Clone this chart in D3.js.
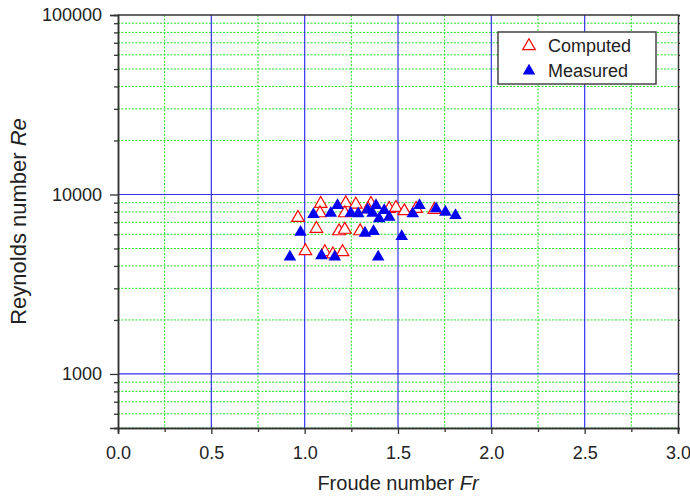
<!DOCTYPE html>
<html>
<head>
<meta charset="utf-8">
<script src="https://cdn.jsdelivr.net/npm/d3@7"></script>
<style>
  body { margin: 0; background: #fff; }
  text { font-family: "Liberation Sans", Arial, sans-serif; fill: #222; }
</style>
</head>
<body>
<div id="chart"></div>
<script>
// Froude number (x) and Reynolds number (y)
const computedFr = [1.086, 1.082, 0.964, 1.063, 1.220, 1.215, 1.274, 1.184, 1.215, 1.297,
                    1.355, 1.004, 1.108, 1.151, 1.203, 1.453, 1.489, 1.534, 1.597, 1.695, 1.340];
const computedRe = [8880, 7870, 7420, 6450, 8950, 7870, 8800, 6250, 6370, 6250,
                    8880, 4840, 4780, 4650, 4780, 8330, 8440, 8080, 8330, 8220, 8300];

const measuredFr = [0.978, 0.921, 1.047, 1.176, 1.140, 1.090, 1.161, 1.247, 1.287, 1.323,
                    1.369, 1.382, 1.337, 1.364, 1.399, 1.426, 1.453, 1.394, 1.520, 1.579,
                    1.615, 1.704, 1.754, 1.808];
const measuredRe = [6170, 4490, 7740, 8690, 7870, 4570, 4490, 7870, 7810, 6100,
                    6230, 8690, 8220, 7870, 7330, 8150, 7480, 4490, 5840, 7810,
                    8690, 8330, 7980, 7640];

const xMajor = [0, 0.5, 1.0, 1.5, 2.0, 2.5, 3.0];
const xMinor = [0.25, 0.75, 1.25, 1.75, 2.25, 2.75];
const yMajor = [1000, 10000, 100000];
const yMinor = [500, 600, 700, 800, 900, 2000, 3000, 4000, 5000, 6000, 7000, 8000, 9000,
                20000, 30000, 40000, 50000, 60000, 70000, 80000, 90000];
const seriesNames = ["Computed", "Measured"];

const width = 690, height = 498;
const margin = { top: 15, left: 118, right: 12, bottom: 70 };
const iwidth = width - margin.left - margin.right;
const iheight = height - margin.top - margin.bottom;

const svg = d3.select("#chart").append("svg")
  .attr("width", width)
  .attr("height", height);

const g = svg.append("g").attr("transform", `translate(${margin.left},${margin.top})`);

const x = d3.scaleLinear().domain([0, 3]).range([0, iwidth]);
const y = d3.scaleLog().domain([500, 100000]).range([iheight, 0]);

// grid: green dotted minor, blue solid major
g.selectAll(".gx-minor").data(xMinor).enter().append("line")
  .attr("x1", d => x(d)).attr("x2", d => x(d))
  .attr("y1", 0).attr("y2", iheight)
  .attr("stroke", "#22e022").attr("stroke-width", 1).attr("stroke-dasharray", "2,1.5");
g.selectAll(".gy-minor").data(yMinor).enter().append("line")
  .attr("x1", 0).attr("x2", iwidth)
  .attr("y1", d => y(d)).attr("y2", d => y(d))
  .attr("stroke", "#22e022").attr("stroke-width", 1).attr("stroke-dasharray", "2,1.5");
g.selectAll(".gx-major").data(xMajor.slice(1, -1)).enter().append("line")
  .attr("x1", d => x(d)).attr("x2", d => x(d))
  .attr("y1", 0).attr("y2", iheight)
  .attr("stroke", "#3333ee").attr("stroke-width", 1.2);
g.selectAll(".gy-major").data([1000, 10000]).enter().append("line")
  .attr("x1", 0).attr("x2", iwidth)
  .attr("y1", d => y(d)).attr("y2", d => y(d))
  .attr("stroke", "#3333ee").attr("stroke-width", 1.2);

// axes
const fmtX = d3.format(".1f");
g.append("g")
  .attr("transform", `translate(0,${iheight})`)
  .call(d3.axisBottom(x).tickValues(xMajor).tickSize(6).tickPadding(12).tickFormat(fmtX));
g.append("g")
  .attr("transform", `translate(0,${iheight})`)
  .call(d3.axisBottom(x).tickValues(xMinor).tickSize(4).tickFormat(""));

g.append("g")
  .call(d3.axisLeft(y).tickValues(yMajor).tickSize(8).tickPadding(8).tickFormat(d3.format("d")));
g.append("g")
  .call(d3.axisLeft(y).tickValues(yMinor).tickSize(4).tickFormat(""));
g.append("g")
  .attr("transform", `translate(${iwidth},0)`)
  .call(d3.axisRight(y).tickValues(yMajor.concat(yMinor)).tickSize(2).tickFormat(""));

g.selectAll(".domain").attr("stroke", "#333").attr("stroke-width", 1.5);
g.selectAll(".tick line").attr("stroke", "#333").attr("stroke-width", 1.3);
g.selectAll(".tick text").style("font-size", "18px").attr("fill", "#222");

// top frame line
g.append("line")
  .attr("x1", 0).attr("x2", iwidth).attr("y1", 0).attr("y2", 0)
  .attr("stroke", "#333").attr("stroke-width", 1.5);

// points
const tri = d3.symbol().type(d3.symbolTriangle).size(68);
const computed = computedFr.map((d, i) => ({ fr: d, re: computedRe[i] }));
const measured = measuredFr.map((d, i) => ({ fr: d, re: measuredRe[i] }));

g.selectAll(".computed").data(computed).enter().append("path")
  .attr("d", tri)
  .attr("transform", d => `translate(${x(d.fr)},${y(d.re)})`)
  .attr("fill", "#fff")
  .attr("stroke", "#ff0000")
  .attr("stroke-width", 1.2);

g.selectAll(".measured").data(measured).enter().append("path")
  .attr("d", tri)
  .attr("transform", d => `translate(${x(d.fr)},${y(d.re)})`)
  .attr("fill", "#0000ee");

// axis titles
const xt = svg.append("text")
  .attr("x", margin.left + iwidth / 2)
  .attr("y", 490)
  .attr("text-anchor", "middle")
  .style("font-size", "20px");
xt.append("tspan").text("Froude number ");
xt.append("tspan").style("font-style", "italic").text("Fr");

const yt = svg.append("text")
  .attr("transform", `translate(26,${margin.top + iheight / 2}) rotate(-90)`)
  .attr("text-anchor", "middle")
  .style("font-size", "22px");
yt.append("tspan").text("Reynolds number ");
yt.append("tspan").style("font-style", "italic").text("Re");

// legend
const legend = svg.append("g");
legend.append("rect")
  .attr("x", 498).attr("y", 32).attr("width", 158).attr("height", 52)
  .attr("fill", "#fff").attr("stroke", "#444").attr("stroke-width", 1.5);
const items = legend.selectAll(".item").data(seriesNames).enter().append("g")
  .attr("transform", (d, i) => `translate(529,${46 + i * 25})`);
items.append("path")
  .attr("d", tri)
  .attr("fill", (d, i) => i === 0 ? "#fff" : "#0000ee")
  .attr("stroke", (d, i) => i === 0 ? "#ff0000" : "none")
  .attr("stroke-width", 1.2);
items.append("text")
  .attr("x", 19).attr("y", 6)
  .style("font-size", "18px")
  .text(d => d);
</script>
</body>
</html>
